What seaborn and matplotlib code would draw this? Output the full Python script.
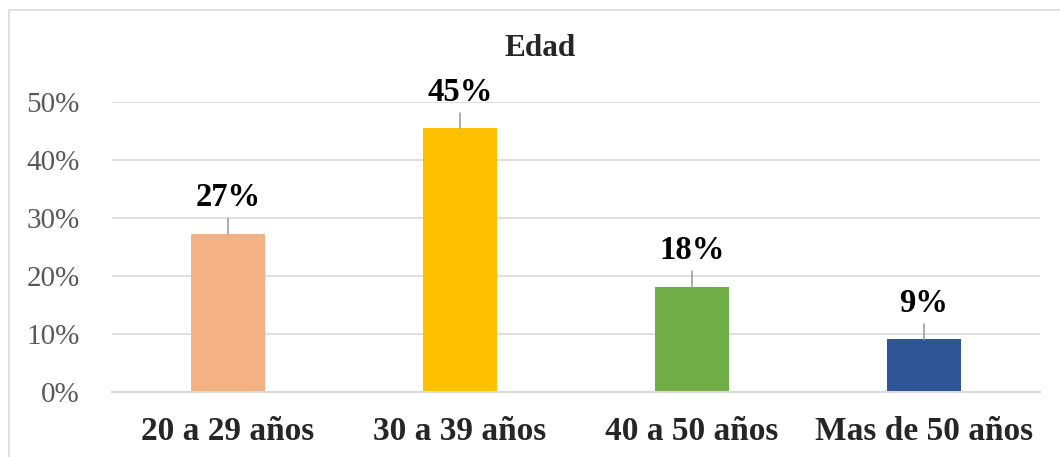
import matplotlib
matplotlib.use("Agg")
import matplotlib.pyplot as plt
from matplotlib.lines import Line2D
from matplotlib.ticker import PercentFormatter
import seaborn as sns
import pandas as pd

# data
categorias = ['20 a 29 años', '30 a 39 años', '40 a 50 años', 'Mas de 50 años']
porcentajes = [0.2727, 0.4545, 0.1818, 0.0909]
etiquetas = ['27%', '45%', '18%', '9%']
colores = ['#F4B183', '#FFC000', '#70AD47', '#2F5597']

df = pd.DataFrame({'edad': categorias, 'pct': porcentajes})

sns.set_style('white')
plt.rcParams['font.family'] = ['Liberation Serif', 'DejaVu Serif']

W, H = 1060, 457
fig = plt.figure(figsize=(W / 100, H / 100), dpi=100)
ax = fig.add_axes([112 / W, 1 - 392 / H, (1040 - 112) / W, (392 - 102) / H])

sns.barplot(data=df, x='edad', y='pct', hue='edad', palette=colores,
            width=0.315, legend=False, ax=ax, saturation=1, linewidth=0)

ax.set_ylim(0, 0.5)
ax.set_xlim(-0.5, 3.5)
ax.set_yticks([0, 0.1, 0.2, 0.3, 0.4, 0.5])
ax.yaxis.set_major_formatter(PercentFormatter(1.0, decimals=0))
ax.grid(axis='y', color='#D9D9D9', lw=1.2)
ax.set_axisbelow(True)
for s in ['top', 'right', 'left']:
    ax.spines[s].set_visible(False)
ax.spines['bottom'].set_color('#D9D9D9')
ax.spines['bottom'].set_linewidth(1.5)
ax.tick_params(axis='y', labelsize=21, labelcolor='#595959', length=0, pad=23)
ax.tick_params(axis='x', labelsize=24, length=0, pad=17)
for t in ax.get_xticklabels():
    t.set_fontweight('bold')
ax.set_xlabel('')
ax.set_ylabel('')

# data labels with leader lines
for i, (v, lab) in enumerate(zip(porcentajes, etiquetas)):
    ax.annotate('', xy=(i, v), xytext=(0, 11), textcoords='offset points',
                arrowprops=dict(arrowstyle='-', color='#A6A6A6', lw=1.3,
                                shrinkA=0, shrinkB=0), annotation_clip=False)
    ax.annotate(lab, xy=(i, v), xytext=(0, 26), textcoords='offset points',
                ha='center', va='center', fontsize=23.5, fontweight='bold',
                color='black', annotation_clip=False)

fig.text(540 / W, 1 - 49 / H, 'Edad', ha='center', va='center',
         fontsize=22.5, fontweight='bold')

# chart border
fig.add_artist(Line2D([9 / W, 1], [1 - 10 / H, 1 - 10 / H], color='#D9D9D9', lw=1.2))
fig.add_artist(Line2D([9 / W, 9 / W], [0, 1 - 10 / H], color='#D9D9D9', lw=1.2))

fig.savefig('out.png', dpi=100)
